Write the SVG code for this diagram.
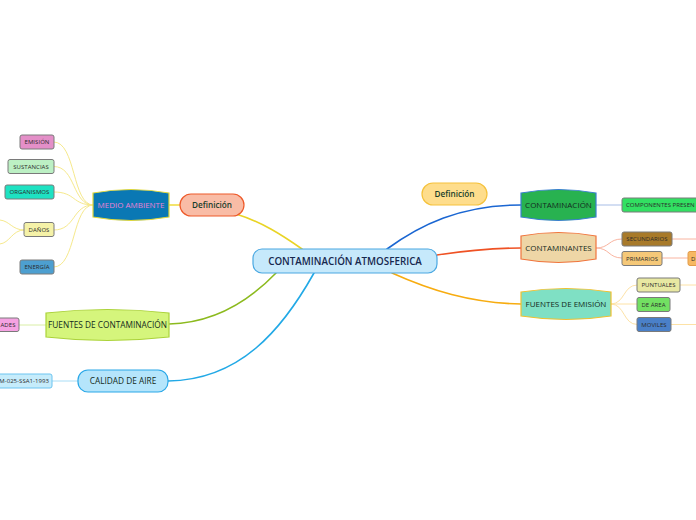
<svg xmlns="http://www.w3.org/2000/svg" width="696" height="520" viewBox="0 0 696 520">
<style>
text{font-family:"Open Sans","Noto Sans","Liberation Sans",sans-serif;text-anchor:middle}
.leaf rect{stroke:#7a7a7a;stroke-width:1}
.leaf text{font-size:6px;fill:#2b2b2b;letter-spacing:0.05px}
.mid text{font-size:8px;fill:#142a20}
.c{fill:none;stroke-linecap:round}
.thin{stroke-width:1}
.main{stroke-width:1.6}
</style>
<rect width="696" height="520" fill="#ffffff"/>
<g id="connectors">
  <path class="c main" stroke="#e9d426" d="M302,249 C282,235 262,222 236,214"/>
  <path class="c main" stroke="#f0dc3c" d="M169,205 L180,205"/>
  <path class="c main" stroke="#8cba1e" d="M276,273 C250,300 215,323 169,324"/>
  <path class="c main" stroke="#22a9e6" d="M314,273 C282,330 240,380 168,381"/>
  <path class="c main" stroke="#1a66d2" d="M387,249 C420,225 460,205 521,205"/>
  <path class="c main" stroke="#ef5224" d="M437,255 C470,250 490,248 521,248"/>
  <path class="c main" stroke="#f7ac10" d="M392,273 C430,290 470,303 521,304"/>
  <g stroke="#f6e98c">
    <path class="c thin" d="M93,205 C72,205 76,142 54,142"/>
    <path class="c thin" d="M93,205 C72,205 76,166.5 54,166.5"/>
    <path class="c thin" d="M93,205 C72,205 76,192 54,192"/>
    <path class="c thin" d="M93,205 C72,205 76,230 54,230"/>
    <path class="c thin" d="M93,205 C72,205 76,267 54,267"/>
    <path class="c thin" d="M24,230 C12,230 10,221 0,220"/>
    <path class="c thin" d="M24,230 C12,230 10,243 0,244"/>
  </g>
  <path class="c thin" stroke="#d9eea6" d="M46,325 L19,325"/>
  <path class="c thin" stroke="#a8ddf6" d="M78,381 L52,381"/>
  <path class="c thin" stroke="#a7bde6" d="M596,205 L622,205"/>
  <g stroke="#f9b4a0">
    <path class="c thin" d="M596,248 C610,248 608,239 622,239"/>
    <path class="c thin" d="M596,248 C610,248 608,258 622,258"/>
    <path class="c thin" d="M672,239 L696,239"/>
    <path class="c thin" d="M662,258 L688,258"/>
  </g>
  <g stroke="#fde2a6">
    <path class="c thin" d="M611,304 C625,304 623,285 637,285"/>
    <path class="c thin" d="M611,304 L637,304"/>
    <path class="c thin" d="M611,304 C625,304 623,324.5 637,324.5"/>
    <path class="c thin" d="M680,285 L696,285"/>
    <path class="c thin" d="M671,324.5 L696,324.5"/>
  </g>
</g>
<g id="root">
  <rect x="253" y="249" width="184" height="24" rx="9" fill="#c6e9fb" stroke="#4aa8e2" stroke-width="1.2"/>
  <text x="345" y="264.5" font-size="9.8" font-weight="600" fill="#17284e">CONTAMINACIÓN ATMOSFERICA</text>
</g>
<g id="def-left">
  <rect x="180" y="194" width="64" height="22" rx="11" fill="#f9bca6" stroke="#ee5a2a" stroke-width="1.2"/>
  <text x="212" y="208" font-size="8.2" font-weight="600" fill="#183d2b">Definición</text>
</g>
<g id="def-right">
  <rect x="422" y="183" width="65" height="22" rx="11" fill="#fedd8c" stroke="#f5c23c" stroke-width="1.2"/>
  <text x="454.5" y="197" font-size="8.2" font-weight="600" fill="#183d2b">Definición</text>
</g>
<g id="medio-ambiente" class="mid">
  <path d="M93,193 Q131,186 169,193 L169,217 Q131,224 93,217 Z" fill="#0a78b4" stroke="#e2d83a" stroke-width="1.2"/>
  <text x="131" y="207.5" style="fill:#ea80d4">MEDIO AMBIENTE</text>
</g>
<g id="fuentes-contaminacion" class="mid">
  <path d="M46,313 Q107.5,306 169,313 L169,337 Q107.5,344 46,337 Z" fill="#d5f57c" stroke="#abd23a" stroke-width="1.2"/>
  <text x="107.5" y="328" style="font-size:8.3px">FUENTES DE CONTAMINACIÓN</text>
</g>
<g id="calidad-aire" class="mid">
  <rect x="78" y="370" width="90" height="22" rx="10" fill="#b5e5fb" stroke="#2aa8e8" stroke-width="1.2"/>
  <text x="123" y="384" style="font-size:8.3px">CALIDAD DE AIRE</text>
</g>
<g id="contaminacion" class="mid">
  <path d="M521,193 Q558.5,186 596,193 L596,217 Q558.5,224 521,217 Z" fill="#28b250" stroke="#3a7fd0" stroke-width="1.2"/>
  <text x="558.5" y="208">CONTAMINACIÓN</text>
</g>
<g id="contaminantes" class="mid">
  <path d="M521,236 Q558.5,229 596,236 L596,259 Q558.5,266 521,259 Z" fill="#eed6a6" stroke="#f0743c" stroke-width="1.2"/>
  <text x="558.5" y="250.5">CONTAMINANTES</text>
</g>
<g id="fuentes-emision" class="mid">
  <path d="M521,292 Q566,285 611,292 L611,316 Q566,323 521,316 Z" fill="#7fe0c4" stroke="#f0c030" stroke-width="1.2"/>
  <text x="566" y="307">FUENTES DE EMISIÓN</text>
</g>
<g id="emision" class="leaf"><rect x="20" y="135" width="34" height="14" rx="2" fill="#e48fc8"/><text x="37" y="144.2">EMISIÓN</text></g>
<g id="sustancias" class="leaf"><rect x="8" y="159.5" width="46" height="14" rx="2" fill="#bcf0c4"/><text x="31" y="168.7">SUSTANCIAS</text></g>
<g id="organismos" class="leaf"><rect x="5" y="185" width="49" height="14" rx="2" fill="#1ee2c2"/><text x="29.5" y="194.2">ORGANISMOS</text></g>
<g id="danos" class="leaf"><rect x="24" y="222.5" width="30" height="14" rx="2" fill="#f5f2a8"/><text x="39" y="231.7">DAÑOS</text></g>
<g id="energia" class="leaf"><rect x="20" y="260" width="34" height="14" rx="2" fill="#4d9fd0"/><text x="37" y="269.2">ENERGÍA</text></g>
<g id="actividades" class="leaf"><rect x="-20" y="318" width="39" height="13.5" rx="2" fill="#f5a2e2"/><text x="15.5" y="327" style="text-anchor:end">ADES</text></g>
<g id="nom" class="leaf"><rect x="-20" y="374" width="72" height="14" rx="2" fill="#c6ecfb" style="stroke:#6cc4f0"/><text x="49" y="383.2" style="text-anchor:end">M-025-SSA1-1993</text></g>
<g id="componentes" class="leaf"><rect x="622" y="198" width="90" height="14" rx="2" fill="#32e062"/><text x="626" y="207.2" style="text-anchor:start">COMPONENTES PRESEN</text></g>
<g id="secundarios" class="leaf"><rect x="622" y="232" width="50" height="14" rx="2" fill="#a87a2a"/><text x="647" y="241.2">SECUNDARIOS</text></g>
<g id="primarios" class="leaf"><rect x="622" y="251.5" width="40" height="14" rx="2" fill="#f5c878"/><text x="642" y="260.7">PRIMARIOS</text></g>
<g id="d-leaf" class="leaf"><rect x="688" y="251.5" width="30" height="14" rx="2" fill="#f6b862" style="stroke:#e39a48"/><text x="691" y="260.7" style="text-anchor:start">D</text></g>
<g id="puntuales" class="leaf"><rect x="637" y="278" width="43" height="14" rx="2" fill="#e8e8a2"/><text x="658.5" y="287.2">PUNTUALES</text></g>
<g id="de-area" class="leaf"><rect x="637" y="297.5" width="33" height="14" rx="2" fill="#72e062"/><text x="653.5" y="306.7">DE ÁREA</text></g>
<g id="moviles" class="leaf"><rect x="637" y="317.5" width="34" height="14" rx="2" fill="#4a80c8"/><text x="654" y="326.7">MOVILES</text></g>
</svg>
